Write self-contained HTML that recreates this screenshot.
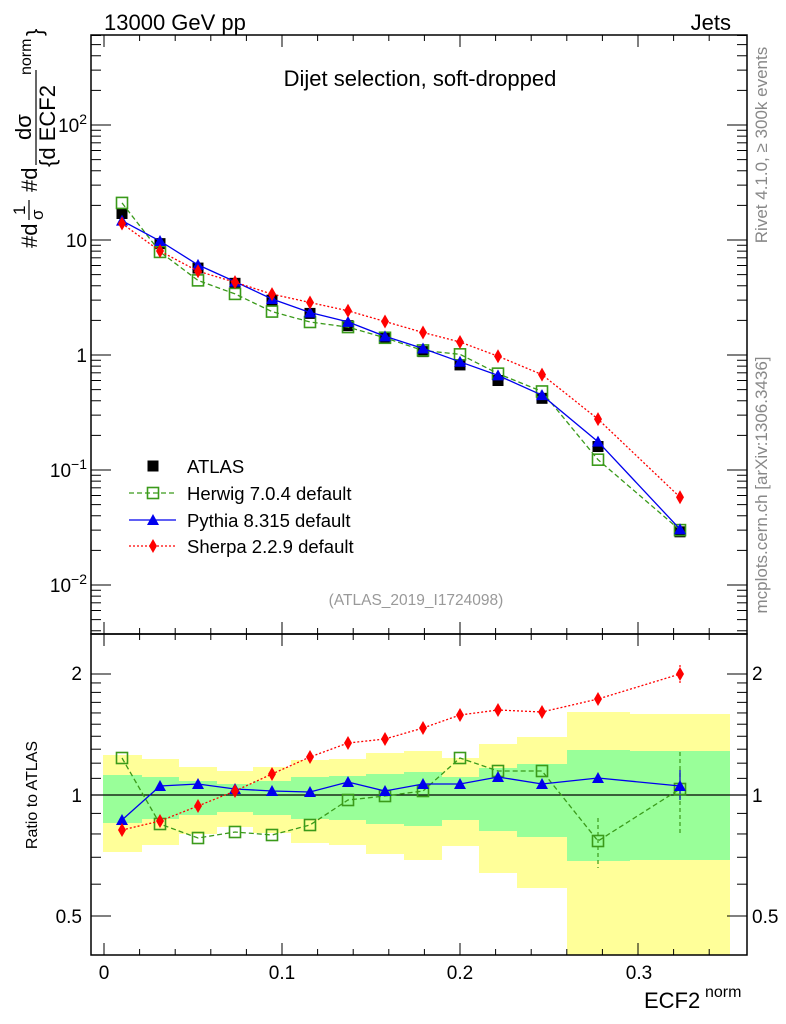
<!DOCTYPE html>
<html><head><meta charset="utf-8"><style>
html,body{margin:0;padding:0;background:#fff}
svg{display:block;font-family:"Liberation Sans",sans-serif}
</style></head><body>
<svg id="s" width="786" height="1024" viewBox="0 0 786 1024" xmlns="http://www.w3.org/2000/svg">
<text x="104" y="30" font-size="22">13000 GeV pp</text>
<text x="731" y="30" font-size="22" text-anchor="end">Jets</text>
<text x="420" y="86" font-size="22" text-anchor="middle">Dijet selection, soft-dropped</text>
<text x="416" y="605" font-size="15.5" fill="#999" text-anchor="middle">(ATLAS_2019_I1724098)</text>
<text transform="translate(767,145) rotate(-90)" font-size="17" fill="#888" text-anchor="middle">Rivet 4.1.0, ≥ 300k events</text>
<text transform="translate(767,485) rotate(-90)" font-size="17" fill="#888" text-anchor="middle">mcplots.cern.ch [arXiv:1306.3436]</text>
<g font-size="22">
<text transform="translate(37,248) rotate(-90)">#d</text>
<text transform="translate(25,215) rotate(-90)" font-size="17">1</text>
<line x1="29" y1="200" x2="29" y2="220" stroke="#000" stroke-width="1.2"/>
<text transform="translate(43,220) rotate(-90)" font-size="17">σ</text>
<text transform="translate(37,192) rotate(-90)">#d</text>
<text transform="translate(31,140) rotate(-90)">dσ</text>
<line x1="36" y1="70" x2="36" y2="165" stroke="#000" stroke-width="1.2"/>
<text transform="translate(55,167) rotate(-90)">{d ECF2</text>
<text transform="translate(31,75) rotate(-90)" font-size="16">norm</text>
<text transform="translate(42,36) rotate(-90)">}</text>
</g>
<text x="644" y="1008" font-size="22">ECF2</text>
<text x="705" y="997" font-size="16">norm</text>
<text transform="translate(37,795) rotate(-90)" font-size="16" text-anchor="middle">Ratio to ATLAS</text>
<g id="g"></g>
</svg>
<script>
var g=document.getElementById('g'),NS='http://www.w3.org/2000/svg';
function el(t,a,txt){var e=document.createElementNS(NS,t);for(var k in a)e.setAttribute(k,a[k]);if(txt!=null)e.textContent=txt;g.appendChild(e);return e;}
var L=91,R=747,T=35,M=634,B=955;
function ym(v){return 355-115*Math.log10(v);}
function yr(r){return 795-402*Math.log10(r);}
function rv(y){return Math.pow(10,(795-y)/402);}
var ex=[103,142,179,217,253,291,329,366,404,442,479,517,567,630,730];
var yel=[[755,852],[759,845],[767,834],[771,827],[767,833],[760,843],[759,845],[753,854],[751,860],[758,846],[744,873],[737,888],[712,955],[714,955]];
var grn=[[775,823],[777,819],[781,815],[784,812],[781,815],[777,819],[776,820],[774,824],[772,826],[777,820],[768,831],[764,837],[750,861],[751,860]];
for(var i=0;i<14;i++){el('rect',{x:ex[i],y:yel[i][0],width:ex[i+1]-ex[i],height:yel[i][1]-yel[i][0],fill:'#ffff99'});}
for(var i=0;i<14;i++){el('rect',{x:ex[i],y:grn[i][0],width:ex[i+1]-ex[i],height:grn[i][1]-grn[i][0],fill:'#99ff99'});}
el('line',{x1:L,y1:795,x2:R,y2:795,stroke:'#000','stroke-width':1.3});
var px=[122,160,198,235,272,310,348,385,423,460,498,542,598,680];
var at=[17,9.3,5.7,4.2,3.0,2.3,1.8,1.42,1.07,0.82,0.6,0.42,0.16,0.029];
var her=[758,824,838,832,835,825,800,796,791,758,771,771,841,789];
var pyt=[820,786,784,789,791,792,782,791,784,784,777,784,778,786];
var she=[830,821,806,791,774,757,743,739,728,715,710,712,699,674];
function series(ys,col,dash,mk,main){
  var pts=[];for(var i=0;i<14;i++){var y=main?ym(at[i]*rv(ys[i])):ys[i];pts.push(px[i]+','+y.toFixed(1));}
  el('polyline',{points:pts.join(' '),fill:'none',stroke:col,'stroke-width':1.3,'stroke-dasharray':dash});
  for(var i=0;i<14;i++){var y=main?ym(at[i]*rv(ys[i])):ys[i];marker(mk,px[i],y,col);}
}
function marker(mk,x,y,col){
  if(mk=='sq')el('rect',{x:x-5.5,y:y-5.5,width:11,height:11,fill:'none',stroke:col,'stroke-width':1.6});
  if(mk=='tri')el('polygon',{points:(x-6)+','+(y+5)+' '+(x+6)+','+(y+5)+' '+x+','+(y-6),fill:col});
  if(mk=='dia')el('polygon',{points:x+','+(y-7)+' '+(x+4)+','+y+' '+x+','+(y+7)+' '+(x-4)+','+y,fill:col});
  if(mk=='bsq')el('rect',{x:x-5.5,y:y-5.5,width:11,height:11,fill:col});
}
el('line',{x1:598,y1:818,x2:598,y2:868,stroke:'#3a9a1a','stroke-width':1.2,'stroke-dasharray':'4,3'});
el('line',{x1:680,y1:752,x2:680,y2:835,stroke:'#3a9a1a','stroke-width':1.2,'stroke-dasharray':'4,3'});
el('line',{x1:680,y1:770,x2:680,y2:800,stroke:'#00c','stroke-width':1.2});
el('line',{x1:680,y1:665,x2:680,y2:683,stroke:'#f00','stroke-width':1.2,'stroke-dasharray':'2,2'});
series(her,'#3a9a1a','5,3','sq',false);
series(pyt,'#0000ee','','tri',false);
series(she,'#ff0000','2,2','dia',false);
for(var i=0;i<14;i++)marker('bsq',px[i],ym(at[i]),'#000');
series(her,'#3a9a1a','5,3','sq',true);
series(pyt,'#0000ee','','tri',true);
series(she,'#ff0000','2,2','dia',true);
el('rect',{x:L,y:T,width:R-L,height:M-T,fill:'none',stroke:'#000','stroke-width':1.5});
el('rect',{x:L,y:M,width:R-L,height:B-M,fill:'none',stroke:'#000','stroke-width':1.5});
for(var v=0;v<=0.36;v+=0.02){var x=104+1780*v;if(x>R)break;var maj=Math.abs(v*10-Math.round(v*10))<1e-6;var l=maj?12:6;
 [[B,-1],[M,1],[M,-1],[T,1]].forEach(function(p){el('line',{x1:x,y1:p[0],x2:x,y2:p[0]+p[1]*l,stroke:'#000','stroke-width':1});});}
[['0',104],['0.1',282],['0.2',460],['0.3',639]].forEach(function(p){el('text',{x:p[1],y:979,'font-size':19,'text-anchor':'middle'},p[0]);});
for(var d=-3;d<=2;d++){for(var k=1;k<10;k++){var y=355-115*(d+Math.log10(k));if(y<T||y>M)continue;var l=k==1?20:10;
 el('line',{x1:L,y1:y,x2:L+l,y2:y,stroke:'#000'});el('line',{x1:R,y1:y,x2:R-l,y2:y,stroke:'#000'});}}
el('text',{x:87,y:247,'font-size':19,'text-anchor':'end'},'10');
el('text',{x:87,y:362,'font-size':19,'text-anchor':'end'},'1');
function sup(b,e,y){var t=el('text',{x:87,y:y,'font-size':19,'text-anchor':'end'});var a=document.createElementNS(NS,'tspan');a.textContent=b;t.appendChild(a);var s=document.createElementNS(NS,'tspan');s.setAttribute('dy','-8');s.setAttribute('font-size','14');s.textContent=e;t.appendChild(s);}
sup('10','2',132);sup('10','−1',477);sup('10','−2',592);
[0.5,0.6,0.7,0.8,0.9,1,1.1,1.2,1.3,1.4,1.5,1.6,1.7,1.8,1.9,2].forEach(function(r){var y=yr(r);var maj=(r==0.5||r==1||r==2);var l=maj?20:10;
 el('line',{x1:L,y1:y,x2:L+l,y2:y,stroke:'#000'});el('line',{x1:R,y1:y,x2:R-l,y2:y,stroke:'#000'});});
[['2',673],['1',795],['0.5',916]].forEach(function(p){el('text',{x:82,y:p[1]+7,'font-size':19,'text-anchor':'end'},p[0]);el('text',{x:752,y:p[1]+7,'font-size':19},p[0]);});
var ly=[466,493,520,546],lt=['ATLAS','Herwig 7.0.4 default','Pythia 8.315 default','Sherpa 2.2.9 default'];
marker('bsq',153,ly[0],'#000');
el('line',{x1:129,y1:ly[1],x2:176,y2:ly[1],stroke:'#3a9a1a','stroke-width':1.3,'stroke-dasharray':'5,3'});marker('sq',153,ly[1],'#3a9a1a');
el('line',{x1:129,y1:ly[2],x2:176,y2:ly[2],stroke:'#0000ee','stroke-width':1.3});marker('tri',153,ly[2],'#0000ee');
el('line',{x1:129,y1:ly[3],x2:176,y2:ly[3],stroke:'#ff0000','stroke-width':1.3,'stroke-dasharray':'2,2'});marker('dia',153,ly[3],'#ff0000');
for(var i=0;i<4;i++)el('text',{x:187,y:ly[i]+7,'font-size':18.5},lt[i]);
</script>
</body></html>
